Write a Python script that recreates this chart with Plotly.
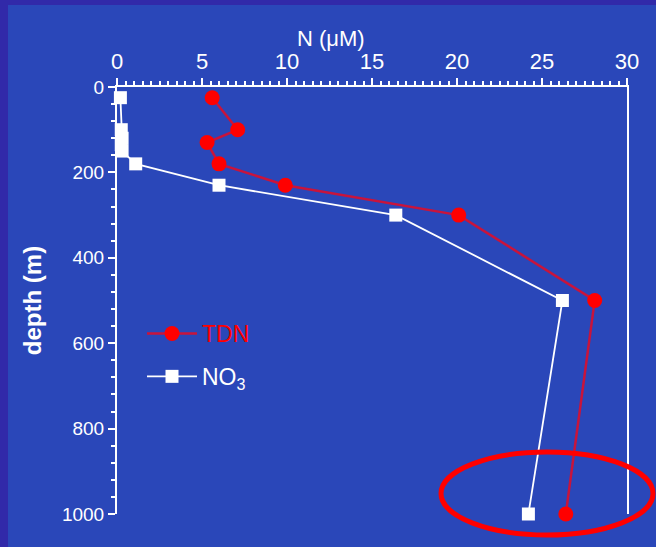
import plotly.graph_objects as go

tdn_n = [5.6, 7.1, 5.3, 6.0, 9.9, 20.1, 28.1, 26.4]
tdn_depth = [25, 100, 130, 180, 230, 300, 500, 1000]

no3_n = [0.2, 0.25, 0.3, 0.25, 0.3, 1.1, 6.0, 16.4, 26.2, 24.2]
no3_depth = [25, 100, 120, 135, 150, 180, 230, 300, 500, 1000]

x_ticks = [0, 5, 10, 15, 20, 25, 30]
y_ticks = [0, 200, 400, 600, 800, 1000]

BG = "#2a47b9"
FRAME = "#3129a9"
FONT = "Liberation Sans, Arial, sans-serif"

fig = go.Figure()
fig.add_trace(go.Scatter(
    x=tdn_n, y=tdn_depth, mode="lines+markers",
    name="<span style='color:#ff0000'>TDN</span>", legendgroup="a",
    line=dict(color="#c8143c", width=2.5),
    marker=dict(symbol="circle", size=15, color="#ff0000"),
    cliponaxis=False,
))
fig.add_trace(go.Scatter(
    x=no3_n, y=no3_depth, mode="lines+markers",
    name="NO<sub>3</sub>", legendgroup="b",
    line=dict(color="white", width=1.8),
    marker=dict(symbol="square", size=13, color="white"),
    cliponaxis=False,
))

W, H = 656, 547
L, R, T, B = 117, 29, 87, 33
pw, ph = W - L - R, H - T - B

# slide frame (darker strips on top and left)
fig.add_shape(type="rect", xref="paper", yref="paper",
              x0=-L / pw - 0.05, x1=(8 - L) / pw, y0=-B / ph - 0.05, y1=(H - B) / ph + 0.05,
              fillcolor=FRAME, line_width=0, layer="below")
fig.add_shape(type="rect", xref="paper", yref="paper",
              x0=-L / pw - 0.05, x1=(W - L) / pw + 0.05, y0=(H - B - 5) / ph, y1=(H - B) / ph + 0.05,
              fillcolor=FRAME, line_width=0, layer="below")

# red highlight ellipse
fig.add_shape(type="circle", xref="paper", yref="paper",
              x0=(441 - L) / pw, x1=(653 - L) / pw,
              y0=(H - B - 535) / ph, y1=(H - B - 452) / ph,
              line=dict(color="#ff0000", width=5))

# x-axis title placed as in the reference
fig.add_annotation(text="N (μM)", xref="paper", yref="paper",
                   x=(331 - L) / pw, y=(H - B - 38) / ph,
                   xanchor="center", yanchor="middle", showarrow=False,
                   font=dict(size=22, color="white", family=FONT))

fig.update_layout(
    width=W, height=H,
    margin=dict(l=L, r=R, t=T, b=B),
    paper_bgcolor=BG, plot_bgcolor=BG,
    font=dict(family=FONT, color="white", size=19),
    showlegend=True,
    legend=dict(x=(142 - L) / pw, y=(H - B - 312) / ph, xanchor="left", yanchor="top",
                bgcolor="rgba(0,0,0,0)", font=dict(size=23, color="white"),
                traceorder="grouped", tracegroupgap=10, itemwidth=50),
    xaxis=dict(
        side="top", range=[0, 30], tickvals=x_ticks,
        showline=True, linecolor="white", linewidth=2,
        ticks="outside", ticklen=7, tickcolor="white", tickwidth=1.5,
        minor=dict(dtick=0.5, ticks="outside", ticklen=4, tickcolor="white", showgrid=False),
        showgrid=False, zeroline=False,
        tickfont=dict(size=22),
    ),
    yaxis=dict(
        range=[1000, 0], tickvals=y_ticks,
        showline=True, linecolor="white", linewidth=2, mirror=True,
        ticks="outside", ticklen=7, tickcolor="white", tickwidth=1.5,
        minor=dict(dtick=40, ticks="outside", ticklen=4, tickcolor="white", showgrid=False),
        showgrid=False, zeroline=False,
        tickfont=dict(size=19),
        title=dict(text="<b>depth (m)</b>", font=dict(size=24), standoff=14),
    ),
)

fig.write_html(
    "out.html",
    config={"displayModeBar": False},
    post_script="document.body.style.margin='0';document.body.style.background='%s';" % BG,
)
